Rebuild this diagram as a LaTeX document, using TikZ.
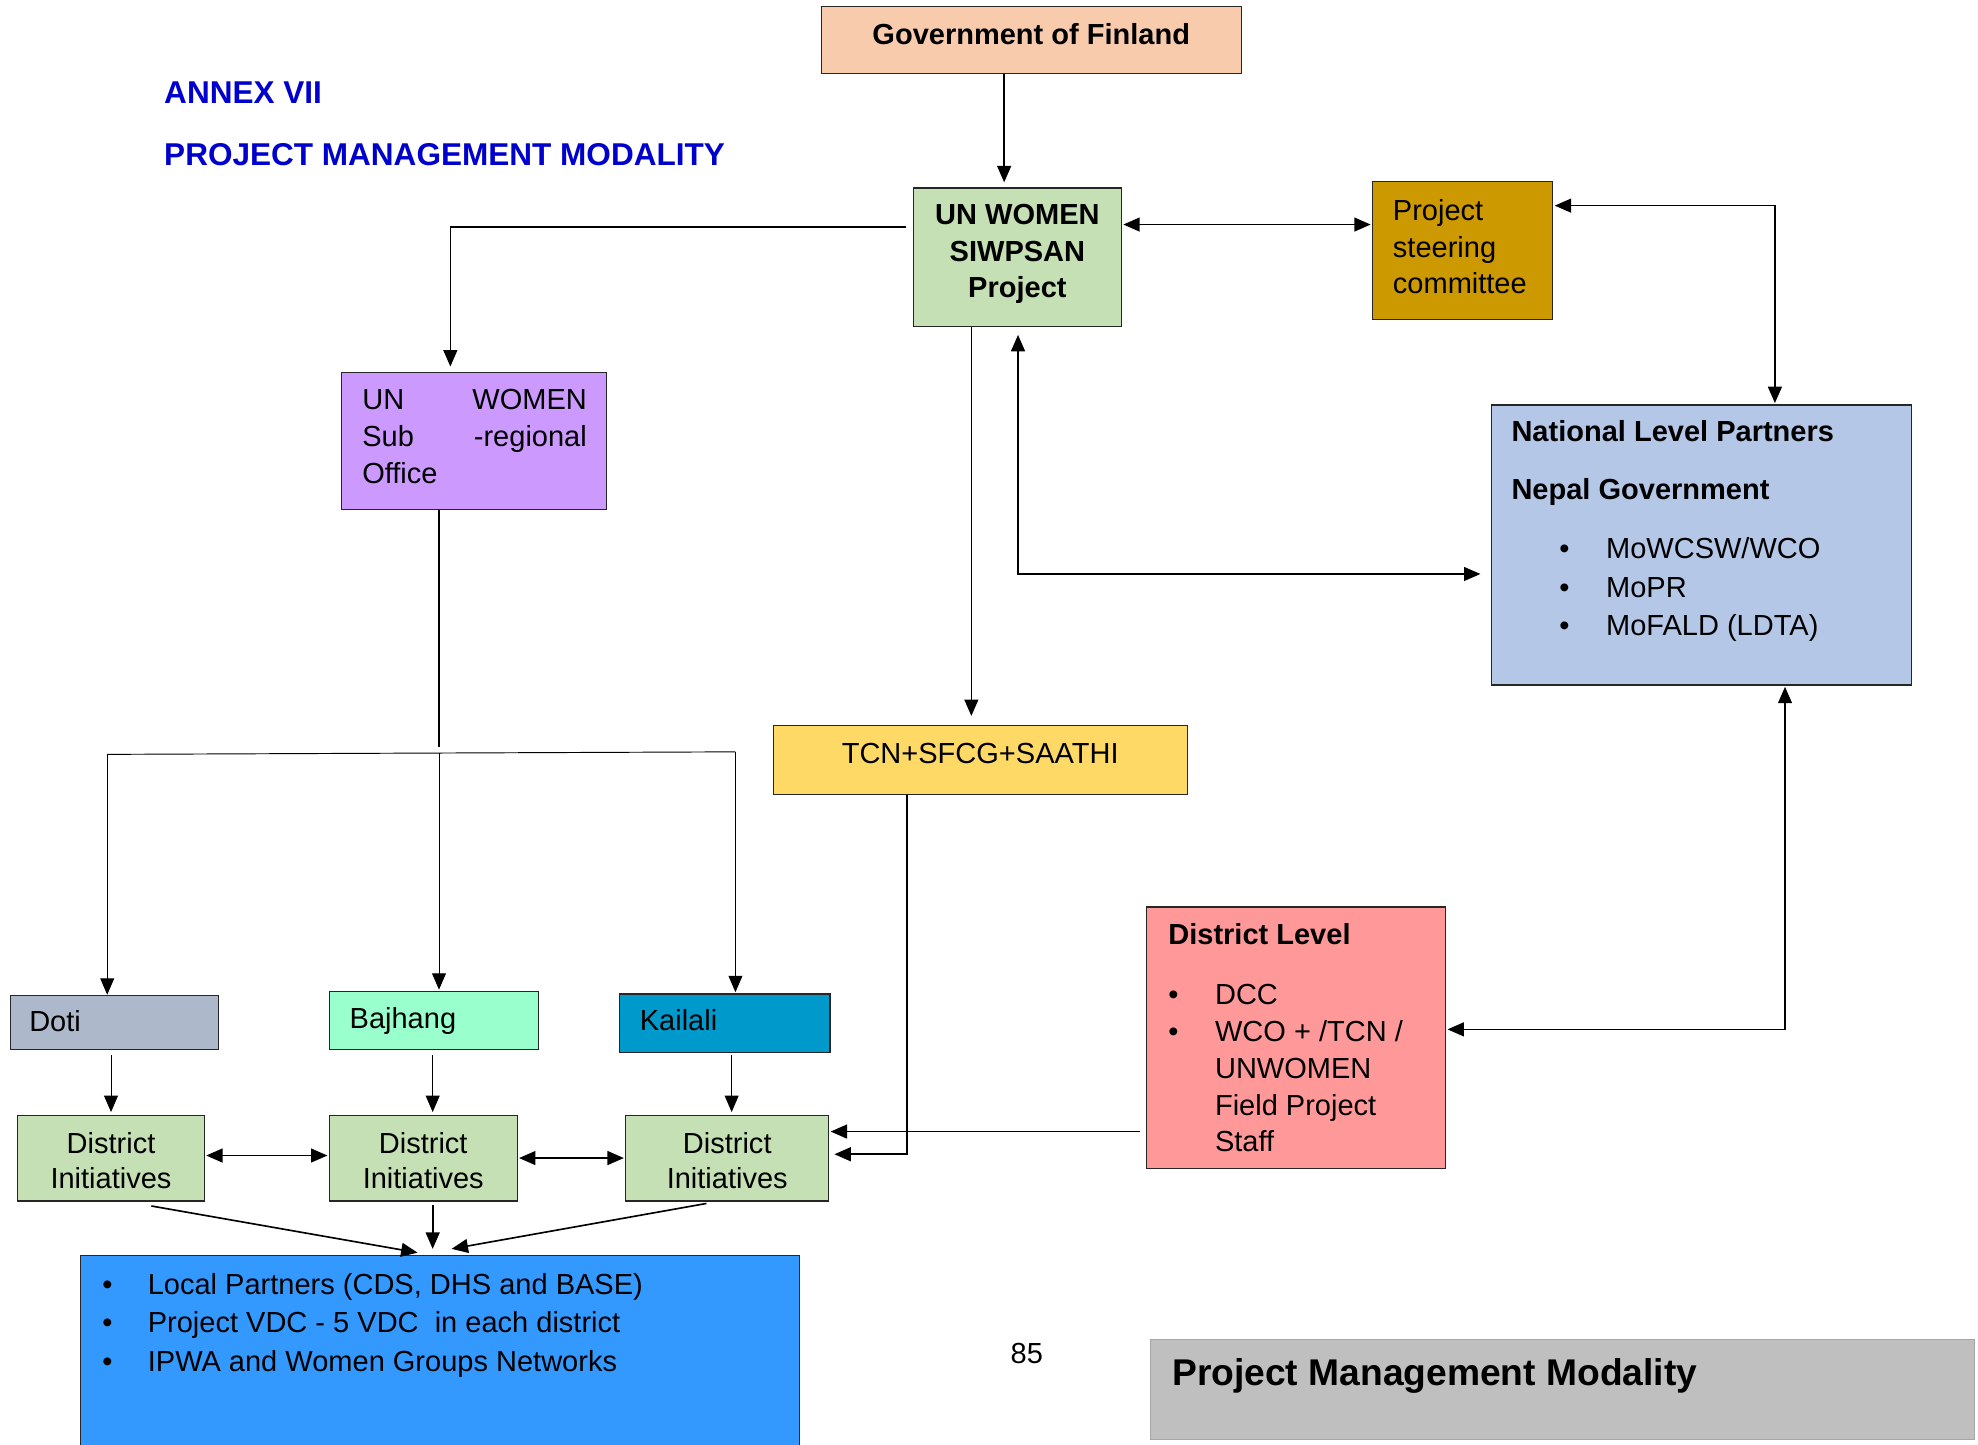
\documentclass[tikz,border=0pt]{standalone}
\usepackage{fontspec}
\setmainfont{Liberation Sans}
\usetikzlibrary{arrows.meta}
\definecolor{ctitle}{RGB}{0,0,204}
\definecolor{cgov}{HTML}{F8CBAD}
\definecolor{cgreen}{HTML}{C5E0B4}
\definecolor{cgold}{HTML}{CC9900}
\definecolor{cpurple}{HTML}{CC99FF}
\definecolor{cnat}{HTML}{B4C7E7}
\definecolor{ctcn}{HTML}{FFD966}
\definecolor{cdl}{HTML}{FF9999}
\definecolor{cdoti}{HTML}{ADB9CA}
\definecolor{cbaj}{HTML}{99FFCC}
\definecolor{ckai}{HTML}{0099CC}
\definecolor{clp}{HTML}{3399FF}
\definecolor{cpmm}{HTML}{BFBFBF}
\definecolor{cpmmline}{HTML}{A6A6A6}
\newcommand\dgf[1]{\fontsize{23}{#1}\selectfont}
\newcommand\bul[1]{\makebox[#1][l]{\textbullet}}
\begin{document}
\begin{tikzpicture}[x=1pt,y=-1pt,
  box/.style={draw=black!85, line width=0.9pt, inner sep=0pt, anchor=center},
  txt/.style={inner sep=0pt, font={\dgf{29.5}}},
  arr/.style={line width=1.3pt, -{Triangle[length=13pt,width=11pt]}},
  biarr/.style={line width=1.3pt, {Triangle[length=13pt,width=11pt]}-{Triangle[length=13pt,width=11pt]}},
  thinarr/.style={line width=0.75pt, -{Triangle[length=13pt,width=11pt]}},
  thinline/.style={line width=0.75pt}]
\fill[white] (0,0) rectangle (1568,1145);
\useasboundingbox (0,0) rectangle (1568,1145);

% titles
\node[txt, anchor=base west, text=ctitle, font={\fontsize{25}{30}\selectfont\bfseries}] (annex) at (130,82) {ANNEX VII};
\node[txt, anchor=base west, text=ctitle, font={\fontsize{25}{30}\selectfont\bfseries}] (pmmhead) at (130,131) {PROJECT MANAGEMENT MODALITY};

% boxes
\node[box, fill=cgov, minimum width=333pt, minimum height=53pt] (gov) at (817.5,31.5) {};
\node[txt, anchor=base, font={\dgf{29.5}\bfseries}] (tgov) at (817.5,35) {Government of Finland};

\node[box, fill=cgreen, minimum width=165pt, minimum height=110pt] (unw) at (806.5,204) {};
\node[txt, anchor=base, font={\dgf{29}\bfseries}] (tunw) at (806.5,178) {\begin{tabular}[t]{@{}c@{}}UN WOMEN\\SIWPSAN\\Project\end{tabular}};

\node[box, fill=cgold, minimum width=143pt, minimum height=109pt] (psc) at (1159.5,198.5) {};
\node[txt, anchor=base west, font={\dgf{29}}] (tpsc) at (1104,175) {\begin{tabular}[t]{@{}l@{}}Project\\steering\\committee\end{tabular}};

\node[box, fill=cpurple, minimum width=210pt, minimum height=109pt] (sub) at (376,349.5) {};
\node[txt, anchor=base west, font={\dgf{29}}] (tsub) at (287,325) {\begin{tabular}[t]{@{}l@{}}\hbox to 178pt{UN\hfill WOMEN}\\\hbox to 178pt{Sub\hfill -regional}\\Office\end{tabular}};

\node[box, fill=cnat, minimum width=333pt, minimum height=222pt] (nat) at (1348.5,432) {};
\node[txt, anchor=base west, font={\dgf{29}\bfseries}] (tnat1) at (1198,350) {National Level Partners};
\node[txt, anchor=base west, font={\dgf{29}\bfseries}] (tnat2) at (1198,396) {Nepal Government};
\node[txt, anchor=base west, font={\dgf{30.5}}] (tnat3) at (1236,443) {\begin{tabular}[t]{@{}l@{}l@{}}\bul{37pt}&MoWCSW/WCO\\\bul{37pt}&MoPR\\\bul{37pt}&MoFALD (LDTA)\end{tabular}};

\node[box, fill=ctcn, minimum width=328pt, minimum height=55pt] (tcn) at (777,602.5) {};
\node[txt, anchor=base] (ttcn) at (777,605) {TCN+SFCG+SAATHI};

\node[box, fill=cdl, minimum width=237pt, minimum height=207pt] (dl) at (1027.5,822.5) {};
\node[txt, anchor=base west, font={\dgf{29.5}\bfseries}] (tdl1) at (926,749) {District Level};
\node[txt, anchor=base west, font={\dgf{29.3}}] (tdl2) at (926,796) {\begin{tabular}[t]{@{}l@{}l@{}}\bul{37pt}&DCC\\\bul{37pt}&WCO + /TCN /\\&UNWOMEN\\&Field Project\\&Staff\end{tabular}};

\node[box, fill=cdoti, minimum width=165pt, minimum height=43pt] (doti) at (90.5,810.5) {};
\node[txt, anchor=base west] (tdoti) at (23,818) {Doti};
\node[box, fill=cbaj, minimum width=166pt, minimum height=46pt] (baj) at (344,809) {};
\node[txt, anchor=base west] (tbaj) at (277,815) {Bajhang};
\node[box, fill=ckai, minimum width=167pt, minimum height=46pt] (kai) at (574.5,811) {};
\node[txt, anchor=base west] (tkai) at (507,817) {Kailali};

\node[box, fill=cgreen, minimum width=148pt, minimum height=68pt] (di1) at (88,918) {};
\node[txt, anchor=base, font={\dgf{28.5}}] (tdi1) at (88,914) {\begin{tabular}[t]{@{}c@{}}District\\Initiatives\end{tabular}};
\node[box, fill=cgreen, minimum width=149pt, minimum height=68pt] (di2) at (335.5,918) {};
\node[txt, anchor=base, font={\dgf{28.5}}] (tdi2) at (335.5,914) {\begin{tabular}[t]{@{}c@{}}District\\Initiatives\end{tabular}};
\node[box, fill=cgreen, minimum width=161pt, minimum height=68pt] (di3) at (576.5,918) {};
\node[txt, anchor=base, font={\dgf{28.5}}] (tdi3) at (576.5,914) {\begin{tabular}[t]{@{}c@{}}District\\Initiatives\end{tabular}};

\node[box, fill=clp, minimum width=570pt, minimum height=160pt] (lp) at (349,1075) {};
\node[txt, anchor=base west, font={\dgf{30.5}}] (tlp) at (81,1026) {\begin{tabular}[t]{@{}l@{}l@{}}\bul{36pt}&Local Partners (CDS, DHS and BASE)\\\bul{36pt}&Project VDC - 5 VDC\ \ in each district\\\bul{36pt}&IPWA and Women Groups Networks\end{tabular}};

\node[txt, anchor=base] (pagenum) at (814,1081) {85};

\node[box, draw=cpmmline, fill=cpmm, minimum width=653pt, minimum height=79pt] (pmm) at (1238.5,1101.5) {};
\node[txt, anchor=base west, font={\fontsize{29.5}{34}\selectfont\bfseries}] (tpmm) at (929,1098) {Project Management Modality};

% helper coordinates
\coordinate (x796) at (796,0);
\coordinate (b1) at (357,180);
\coordinate (y178) at (0,178);
\coordinate (b2) at (1407,163);
\coordinate (x770) at (770,0);
\coordinate (b4) at (807,455);
\coordinate (b5top) at (348,592);
\coordinate (b5) at (348,597);
\coordinate (b6) at (85,598);
\coordinate (b7) at (583,596);
\coordinate (x88) at (88,0);
\coordinate (x343) at (343,0);
\coordinate (x580) at (580,0);
\coordinate (y916) at (0,916);
\coordinate (y918) at (0,918);
\coordinate (b8) at (719,915);
\coordinate (y897) at (0,897);
\coordinate (b9) at (1415,816);
\coordinate (s1) at (120,956);
\coordinate (e1) at (331,993);
\coordinate (s2) at (343,955);
\coordinate (e2) at (343,990);
\coordinate (s3) at (560,954);
\coordinate (e3) at (358,990);

% connectors
\draw[arr, shorten >=4pt] (gov.south -| x796) -- (unw.north -| x796);
\draw[arr, shorten <=5pt, shorten >=4pt] (unw.west |- b1) -- (b1) -- (sub.north -| b1);
\draw[biarr, shorten <=1pt, shorten >=1pt] (unw.east |- y178) -- (psc.west |- y178);
\draw[biarr, shorten <=1pt, shorten >=1pt] (psc.east |- b2) -- (b2) -- (nat.north -| b2);
\draw[arr, shorten >=7pt] (unw.south -| x770) -- (tcn.north -| x770);
\draw[biarr, shorten <=6pt, shorten >=8pt] (unw.south -| b4) -- (b4) -- (nat.west |- b4);
\draw[line width=1.3pt] (sub.south -| b5top) -- (b5top);
\draw[thinline] (b6) -- (b7);
\draw[thinarr] (b6) -- (doti.north -| b6);
\draw[thinarr, shorten >=1pt] (b5) -- (baj.north -| b5);
\draw[thinarr, shorten >=1pt] (b7) -- (kai.north -| b7);
\draw[thinarr, shorten <=4pt, shorten >=2pt] (doti.south -| x88) -- (di1.north -| x88);
\draw[thinarr, shorten <=4pt, shorten >=2pt] (baj.south -| x343) -- (di2.north -| x343);
\draw[thinarr, shorten <=2pt, shorten >=2pt] (kai.south -| x580) -- (di3.north -| x580);
\draw[biarr, shorten <=1pt, shorten >=1pt] (di1.east |- y916) -- (di2.west |- y916);
\draw[biarr, shorten <=1pt, shorten >=1pt] (di2.east |- y918) -- (di3.west |- y918);
\draw[arr, shorten >=4pt] (tcn.south -| b8) -- (b8) -- (di3.east |- b8);
\draw[arr, shorten <=5pt, shorten >=1pt] (dl.west |- y897) -- (di3.east |- y897);
\draw[biarr, shorten <=1pt, shorten >=1pt] (nat.south -| b9) -- (b9) -- (dl.east |- b9);
\draw[arr] (s1) -- (e1);
\draw[arr] (s2) -- (e2);
\draw[arr] (s3) -- (e3);
\end{tikzpicture}
\end{document}
